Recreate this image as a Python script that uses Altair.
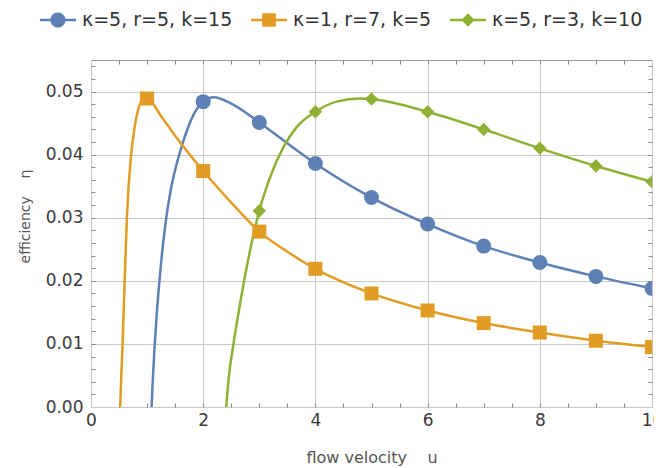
import altair as alt
import pandas as pd

series = ["κ=5, r=5, k=15", "κ=1, r=7, k=5", "κ=5, r=3, k=10"]
palette = ["#5E81B5", "#E19C24", "#8FB032"]

# curve samples (u, efficiency)
blue_u = [1.08, 1.10, 1.13, 1.17, 1.22, 1.28, 1.35, 1.43, 1.52, 1.62, 1.73, 1.85, 2.0, 2.19, 2.5, 3.0, 3.5, 4.0, 5.0, 6.0, 7.0, 8.0, 9.0, 10.0]
blue_eta = [0.0, 0.004, 0.009, 0.0145, 0.020, 0.0255, 0.0305, 0.0348, 0.0383, 0.0414, 0.0443, 0.0467, 0.0484, 0.0491, 0.0481, 0.0451, 0.0418, 0.0386, 0.0332, 0.0290, 0.0255, 0.0229, 0.0207, 0.0188]

orange_u = [0.52, 0.54, 0.563, 0.60, 0.64, 0.71, 0.78, 0.85, 0.92, 1.0, 1.25, 1.5, 2.0, 2.5, 3.0, 3.5, 4.0, 5.0, 6.0, 7.0, 8.0, 9.0, 10.0]
orange_eta = [0.0, 0.005, 0.010, 0.020, 0.030, 0.0395, 0.0445, 0.0474, 0.0487, 0.0489, 0.0461, 0.0430, 0.0374, 0.0324, 0.0278, 0.0246, 0.0219, 0.0180, 0.0153, 0.0133, 0.0118, 0.0105, 0.0095]

green_u = [2.41, 2.45, 2.54, 2.66, 2.84, 3.0, 3.2, 3.43, 3.67, 4.0, 4.38, 4.8, 5.0, 5.5, 6.0, 7.0, 8.0, 9.0, 10.0]
green_eta = [0.0, 0.0042, 0.010, 0.0165, 0.0250, 0.0311, 0.0366, 0.0412, 0.0444, 0.0468, 0.0484, 0.0489, 0.0488, 0.0480, 0.0468, 0.0440, 0.0410, 0.0382, 0.0357]

# plot markers at integer u
blue_mu = [2, 3, 4, 5, 6, 7, 8, 9, 10]
blue_meta = [0.0484, 0.0451, 0.0386, 0.0332, 0.0290, 0.0255, 0.0229, 0.0207, 0.0188]
orange_mu = [1, 2, 3, 4, 5, 6, 7, 8, 9, 10]
orange_meta = [0.0489, 0.0374, 0.0278, 0.0219, 0.0180, 0.0153, 0.0133, 0.0118, 0.0105, 0.0095]
green_mu = [3, 4, 5, 6, 7, 8, 9, 10]
green_meta = [0.0311, 0.0468, 0.0488, 0.0468, 0.0440, 0.0410, 0.0382, 0.0357]

x_major = [0, 2, 4, 6, 8, 10]
x_minor = [0.5, 1, 1.5, 2, 2.5, 3, 3.5, 4, 4.5, 5, 5.5, 6, 6.5, 7, 7.5, 8, 8.5, 9, 9.5]
y_major = [0, 0.01, 0.02, 0.03, 0.04, 0.05]
y_minor = [0.002, 0.004, 0.006, 0.008, 0.01, 0.012, 0.014, 0.016, 0.018, 0.02,
           0.022, 0.024, 0.026, 0.028, 0.03, 0.032, 0.034, 0.036, 0.038, 0.04,
           0.042, 0.044, 0.046, 0.048, 0.05, 0.052, 0.054]

curves = pd.concat([
    pd.DataFrame({"u": blue_u, "eta": blue_eta, "series": series[0]}),
    pd.DataFrame({"u": orange_u, "eta": orange_eta, "series": series[1]}),
    pd.DataFrame({"u": green_u, "eta": green_eta, "series": series[2]}),
], ignore_index=True)
markers = pd.concat([
    pd.DataFrame({"u": blue_mu, "eta": blue_meta, "series": series[0]}),
    pd.DataFrame({"u": orange_mu, "eta": orange_meta, "series": series[1]}),
    pd.DataFrame({"u": green_mu, "eta": green_meta, "series": series[2]}),
], ignore_index=True)

FONT = "DejaVu Sans"
x_scale = alt.Scale(domain=[0, 10], nice=False, zero=False)
y_scale = alt.Scale(domain=[0, 0.055], nice=False, zero=False)
color_scale = alt.Scale(domain=series, range=palette)

bar = "M-1,-0.07L1,-0.07L1,0.07L-1,0.07Z "
legend_shapes = [
    bar + "M0.42,0A0.42,0.42 0 1,1 -0.42,0A0.42,0.42 0 1,1 0.42,0Z",
    bar + "M-0.38,-0.38L0.38,-0.38L0.38,0.38L-0.38,0.38Z",
    bar + "M0,-0.37L0.37,0L0,0.37L-0.37,0Z",
]

legend = alt.Legend(
    orient="none", legendX=-51, legendY=-58, direction="horizontal", title=None,
    symbolSize=1296, symbolStrokeWidth=0, symbolOpacity=1,
    labelFont=FONT, labelFontSize=19, labelColor="#333333", labelOffset=6,
    columnPadding=18,
)

main_x = alt.Axis(orient="bottom", values=x_major, format="d", grid=True, gridColor="#c8c8c8",
                  ticks=False, tickSize=0, domain=False, labelFlush=False, labelFont=FONT,
                  labelFontSize=17, labelColor="#3a3a3a", labelPadding=5,
                  title="flow velocity\u00a0\u00a0\u00a0\u00a0u", titleFont=FONT, titleFontSize=16,
                  titleFontWeight="normal", titleColor="#555555", titleY=55,
                  titleBaseline="alphabetic")
main_y = alt.Axis(orient="left", values=y_major, format=".2f", grid=True, gridColor="#c8c8c8",
                  ticks=False, tickSize=0, domain=False, labelFlush=False, labelFont=FONT,
                  labelFontSize=17, labelColor="#3a3a3a", labelPadding=8,
                  title="efficiency\u00a0\u00a0\u00a0\u00a0η", titleFont=FONT, titleFontSize=14,
                  titleFontWeight="normal", titleColor="#555555", titleX=-62, titleY=156,
                  titleBaseline="alphabetic", titleAngle=270)


def tick_axis(vals, orient):
    return alt.Axis(values=vals, orient=orient, labels=False, domain=False, grid=False, ticks=True,
                    tickSize=4, tickColor="#888888", tickWidth=1, offset=-4, title=None)


legend_layer = alt.Chart(markers).transform_filter("datum.u > 100").mark_point(
    filled=True, opacity=1).encode(
    x=alt.X("u:Q", scale=x_scale, axis=tick_axis(x_minor, "bottom")),
    y=alt.Y("eta:Q", scale=y_scale, axis=tick_axis(y_minor, "left")),
    color=alt.Color("series:N", scale=color_scale, legend=legend),
    shape=alt.Shape("series:N", scale=alt.Scale(domain=series, range=legend_shapes), legend=legend),
)

lines = alt.Chart(curves).mark_line(strokeWidth=2.5, interpolate="monotone", clip=True).encode(
    x=alt.X("u:Q", scale=x_scale, axis=main_x),
    y=alt.Y("eta:Q", scale=y_scale, axis=main_y),
    color=alt.Color("series:N", scale=color_scale),
)


def marker_layer(name, shape, size, axes):
    xa = tick_axis(x_minor, "top") if axes else None
    ya = tick_axis(y_minor, "right") if axes else None
    return alt.Chart(markers).transform_filter(alt.datum.series == name).mark_point(
        filled=True, shape=shape, size=size, opacity=1, clip=True).encode(
        x=alt.X("u:Q", scale=x_scale, axis=xa),
        y=alt.Y("eta:Q", scale=y_scale, axis=ya),
        color=alt.Color("series:N", scale=color_scale),
    )


chart = alt.layer(
    legend_layer,
    lines,
    marker_layer(series[0], "circle", 225, True),
    marker_layer(series[1], "square", 196, False),
    marker_layer(series[2], "diamond", 180, False),
).resolve_axis(x="independent", y="independent").properties(
    width=561, height=347,
    padding={"left": 83, "top": 52, "right": 2, "bottom": 60},
    autosize=alt.AutoSizeParams(type="none"),
    background="white",
).configure_view(stroke="#999999", strokeWidth=1)

chart.save("out.html", embed_options={"renderer": "svg", "actions": False})
